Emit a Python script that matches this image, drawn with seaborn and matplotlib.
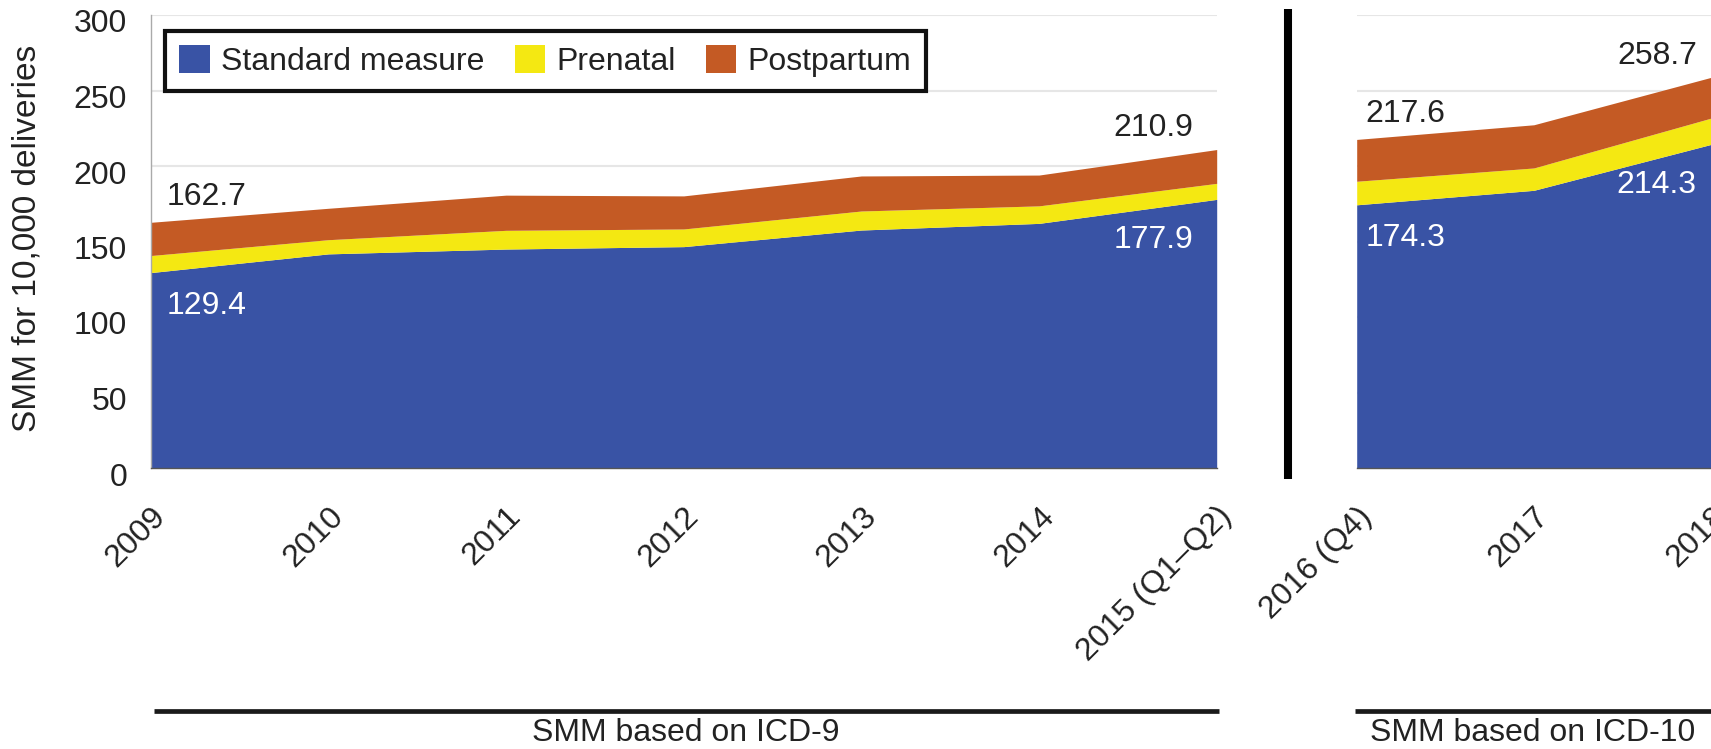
import matplotlib
matplotlib.use("Agg")
import matplotlib.pyplot as plt
from matplotlib.lines import Line2D
from matplotlib.transforms import ScaledTranslation
import seaborn as sns
import pandas as pd

# ICD-9 period
years_icd9 = ["2009", "2010", "2011", "2012", "2013", "2014", "2015 (Q1\u2013Q2)"]
standard_icd9 = [129.4, 141.8, 145.0, 146.6, 157.6, 162.0, 177.9]
prenatal_icd9 = [11.3, 9.4, 12.4, 11.7, 12.6, 11.6, 10.6]
postpartum_icd9 = [22.0, 20.8, 23.3, 21.9, 23.2, 20.4, 22.4]

# ICD-10 period
years_icd10 = ["2016 (Q4)", "2017", "2018"]
standard_icd10 = [174.3, 183.9, 214.3]
prenatal_icd10 = [15.6, 14.8, 17.4]
postpartum_icd10 = [27.7, 28.6, 27.0]

series_names = ["Standard measure", "Prenatal", "Postpartum"]
colors = ["#3953a5", "#f4e812", "#c45a24"]

sns.set_theme(style="white")
plt.rcParams["font.family"] = ["Liberation Sans", "DejaVu Sans"]
FS = 23
TXT = "#222222"

W, H = 1711, 749
fig = plt.figure(figsize=(W / 100, H / 100), dpi=100)
y0_px, y300_px = 468, 15
bottom = 1 - y0_px / H
height = (y0_px - y300_px) / H
ax1 = fig.add_axes([150.7 / W, bottom, (1216.7 - 150.7) / W, height])
ax2 = fig.add_axes([1356.7 / W, bottom, (W - 1356.7) / W, height])


def draw_period(ax, years, std, pre, post):
    df = pd.DataFrame({"year": years, "std": std, "pre": pre, "post": post})
    df["x"] = range(len(df))
    ax.stackplot(df["x"], df["std"], df["pre"], df["post"],
                 colors=colors, labels=series_names, zorder=2, linewidth=0)
    ax.set_xlim(0, len(df) - 1)
    ax.set_ylim(0, 300)
    ax.set_yticks(range(0, 301, 50))
    ax.grid(axis="y", color="#e6e6e6", linewidth=1.5, zorder=0)
    ax.set_axisbelow(True)
    ax.set_xticks(df["x"])
    ax.set_xticklabels(df["year"], rotation=45, ha="right", va="top",
                       rotation_mode="anchor", fontsize=FS, color=TXT)
    ax.tick_params(axis="x", length=0, pad=24)
    ax.tick_params(axis="y", length=0, pad=17, labelsize=FS, labelcolor=TXT)
    for s in ["top", "right"]:
        ax.spines[s].set_visible(False)
    ax.spines["bottom"].set_color("#555555")
    ax.spines["bottom"].set_linewidth(1)
    ax.spines["left"].set_color("#aaaaaa")
    ax.spines["left"].set_linewidth(1)
    return df


d1 = draw_period(ax1, years_icd9, standard_icd9, prenatal_icd9, postpartum_icd9)
d2 = draw_period(ax2, years_icd10, standard_icd10, prenatal_icd10, postpartum_icd10)
ax2.set_yticklabels([])
ax2.spines["left"].set_visible(False)

# y tick labels sit a little below their gridlines in the original
shift = ScaledTranslation(0, -6 / 100, fig.dpi_scale_trans)
for lbl in ax1.get_yticklabels():
    lbl.set_transform(lbl.get_transform() + shift)

# value labels at the ends of each period
for ax, df, dx_l, dx_r in [(ax1, d1, 0.09, -0.13), (ax2, d2, 0.05, -0.08)]:
    tot = df["std"] + df["pre"] + df["post"]
    first, last = 0, len(df) - 1
    ax.text(first + dx_l, tot[first] + 17, f"{tot[first]:.1f}", ha="left", va="center",
            fontsize=FS, color=TXT, zorder=5)
    ax.text(first + dx_l, df["std"][first] - 22, f"{df['std'][first]:.1f}", ha="left",
            va="center", fontsize=FS, color="white", zorder=5)
    ax.text(last + dx_r, tot[last] + 14, f"{tot[last]:.1f}", ha="right", va="center",
            fontsize=FS, color=TXT, zorder=5)
    ax.text(last + dx_r, df["std"][last] - 27, f"{df['std'][last]:.1f}", ha="right",
            va="center", fontsize=FS, color="white", zorder=5)

fig.text(27 / W, 1 - 238 / H, "SMM for 10,000 deliveries", rotation=90,
         ha="center", va="center", fontsize=24, color=TXT)

leg = ax1.legend(loc="upper left", bbox_to_anchor=(165 / W, 1 - 30.7 / H),
                 bbox_transform=fig.transFigure, ncol=3, fontsize=FS,
                 frameon=True, fancybox=False, framealpha=1, borderaxespad=0,
                 handlelength=0.95, handleheight=0.95, handletextpad=0.35,
                 columnspacing=0.95, borderpad=0.45)
leg.get_frame().set_edgecolor("#111111")
leg.get_frame().set_linewidth(3)
for t in leg.get_texts():
    t.set_color(TXT)

# divider between coding periods
fig.add_artist(Line2D([1288 / W, 1288 / W], [1 - 9 / H, 1 - 479 / H],
                      color="black", linewidth=5.8, solid_capstyle="butt"))

# period brackets
y_br = 1 - 711 / H
fig.add_artist(Line2D([154 / W, 1218.6 / W], [y_br, y_br], color="#1a1a1a",
                      linewidth=3.4, solid_capstyle="butt"))
fig.add_artist(Line2D([1355 / W, 1.0], [y_br, y_br], color="#1a1a1a",
                      linewidth=3.4, solid_capstyle="butt"))
fig.text(686 / W, 1 - 733 / H, "SMM based on ICD-9", ha="center", va="center",
         fontsize=FS, color=TXT)
fig.text(1533 / W, 1 - 733 / H, "SMM based on ICD-10", ha="center", va="center",
         fontsize=FS, color=TXT)

fig.savefig("out.png", dpi=100, facecolor="white")
